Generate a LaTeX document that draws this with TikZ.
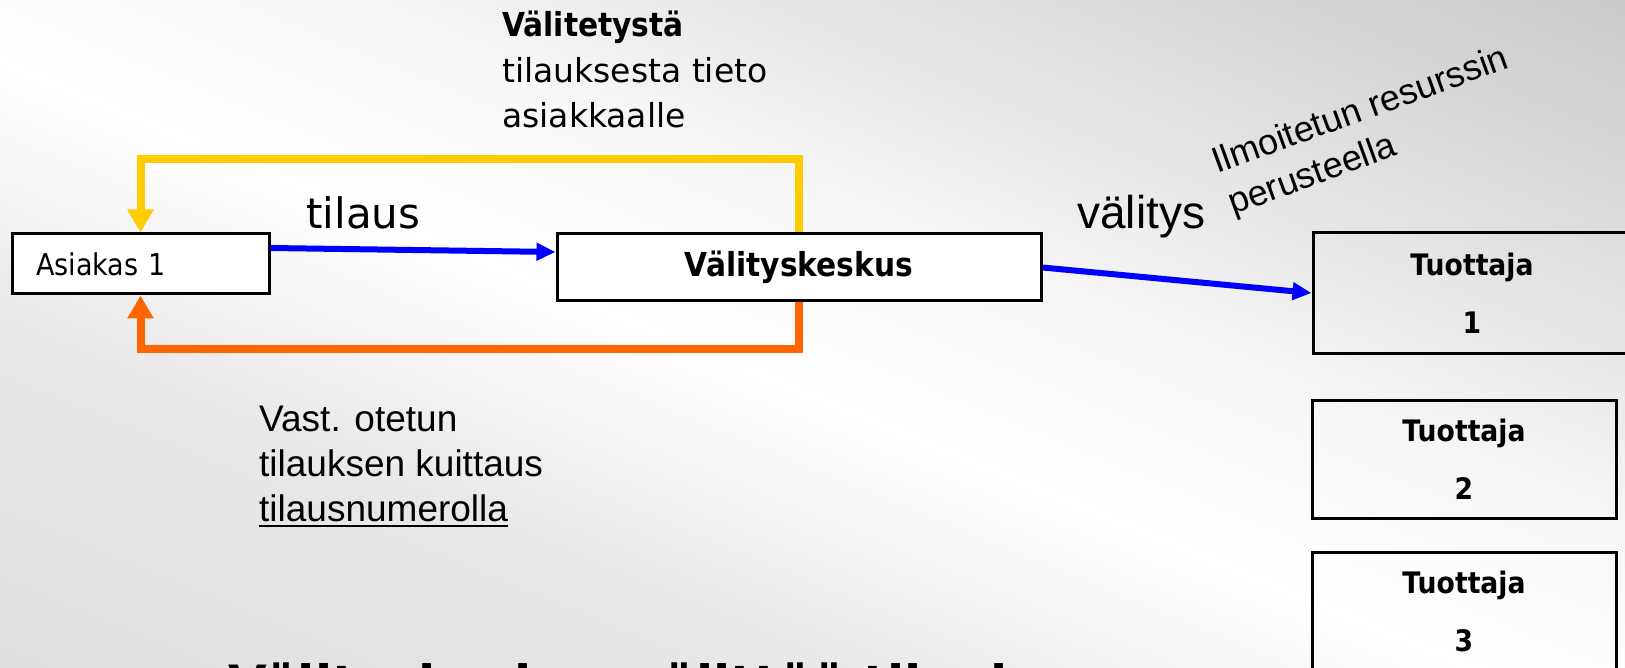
\documentclass[tikz,border=0pt]{standalone}
\usepackage{fontspec}
\usetikzlibrary{arrows.meta}
\newfontfamily\verd{DejaVu Sans}
\newfontfamily\tah[FakeStretch=0.9]{DejaVu Sans}
\newfontfamily\ari{Liberation Sans}
\definecolor{yel}{HTML}{FFCC00}
\definecolor{ora}{HTML}{FF6600}
\definecolor{blu}{HTML}{0000FF}
\pgfdeclarehorizontalshading{bgsh}{2000bp}{color(0bp)=(black!13); color(382bp)=(black!13); color(700bp)=(black!9); color(940bp)=(white); color(1120bp)=(black!3); color(1300bp)=(black!10); color(1618bp)=(black!21); color(2000bp)=(black!21)}
\begin{document}
\begin{tikzpicture}[x=1pt,y=-1pt,
  box/.style={draw=black, line width=3pt, inner sep=0pt},
  txt/.style={inner sep=0pt, anchor=base west},
  bluearrow/.style={draw=blu, line width=6pt, -{Triangle[length=19pt,width=17pt]}},
  fbarrow/.style={line width=8pt, -{Triangle[length=23pt,width=25pt]}}]
\useasboundingbox (0,0) rectangle (1625,668);
\begin{scope}
\clip (0,0) rectangle (1625,668);
\pgftext[at=\pgfpoint{812.5pt}{-334pt},rotate=67.65]{\pgfuseshading{bgsh}}

% boxes
\node[box, fill=white, minimum height=60pt, text width=209pt, inner xsep=24pt, align=left,
      font=\tah\fontsize{30}{36}\selectfont] (as) at (140.5,264) {Asiakas 1};
\node[box, fill=white, minimum width=484pt, minimum height=67pt,
      font=\tah\bfseries\fontsize{33}{40}\selectfont] (vk) at (799,267.5) {Välityskeskus};
\node[box, minimum width=318pt, minimum height=120pt, align=center,
      font=\tah\bfseries\fontsize{29.6}{58}\selectfont] (t1) at (1472,293) {Tuottaja\\1};
\node[box, minimum width=304pt, minimum height=118pt, align=center,
      font=\tah\bfseries\fontsize{29.6}{58}\selectfont] (t2) at (1464,459) {Tuottaja\\2};
\node[box, minimum width=304pt, minimum height=118pt, align=center,
      font=\tah\bfseries\fontsize{29.6}{58}\selectfont] (t3) at (1464,611) {Tuottaja\\3};

% connectors
\draw[bluearrow] ([yshift=16pt]as.east) -- ([yshift=15.5pt]vk.west);
\draw[bluearrow] (vk.east) -- (t1.west);
\draw[fbarrow, yel] (vk.north) -- ++(0,-73) -| (as.north);
\draw[fbarrow, ora] (vk.south) -- ++(0,46) -| (as.south);

% labels
\node[txt, font=\tah\bfseries\fontsize{33}{40}\selectfont] (v1) at (502,37) {Välitetystä};
\node[txt, font=\verd\fontsize{33}{40}\selectfont] (v2) at (502,83) {tilauksesta tieto};
\node[txt, font=\verd\fontsize{33}{40}\selectfont] (v3) at (502,128) {asiakkaalle};
\node[txt, font=\verd\fontsize{42}{50}\selectfont] (tl) at (306,229) {tilaus};
\node[txt, font=\ari\fontsize{46}{50}\selectfont] (vt) at (1077,229) {välitys};
\node[txt, font=\ari\fontsize{36}{40}\selectfont, rotate=20] (il) at (1217,174) {Ilmoitetun resurssin};
\node[txt, font=\ari\fontsize{36}{40}\selectfont, rotate=20] (pe) at (1233,215) {perusteella};
\node[txt, font=\ari\fontsize{37}{45}\selectfont] (k1) at (259,431) {Vast. otetun};
\node[txt, font=\ari\fontsize{37}{45}\selectfont] (k2) at (259,476) {tilauksen kuittaus};
\node[txt, font=\ari\fontsize{37}{45}\selectfont] (k3) at (259,521) {tilausnumerolla};
\draw[line width=2.5pt] ([yshift=-5pt]k3.base west) -- ([yshift=-5pt]k3.base east);
\node[txt, font=\verd\bfseries\fontsize{50}{55}\selectfont] (bt) at (228,701) {Välityskeskus välittää tilauksen};
\end{scope}
\end{tikzpicture}
\end{document}
